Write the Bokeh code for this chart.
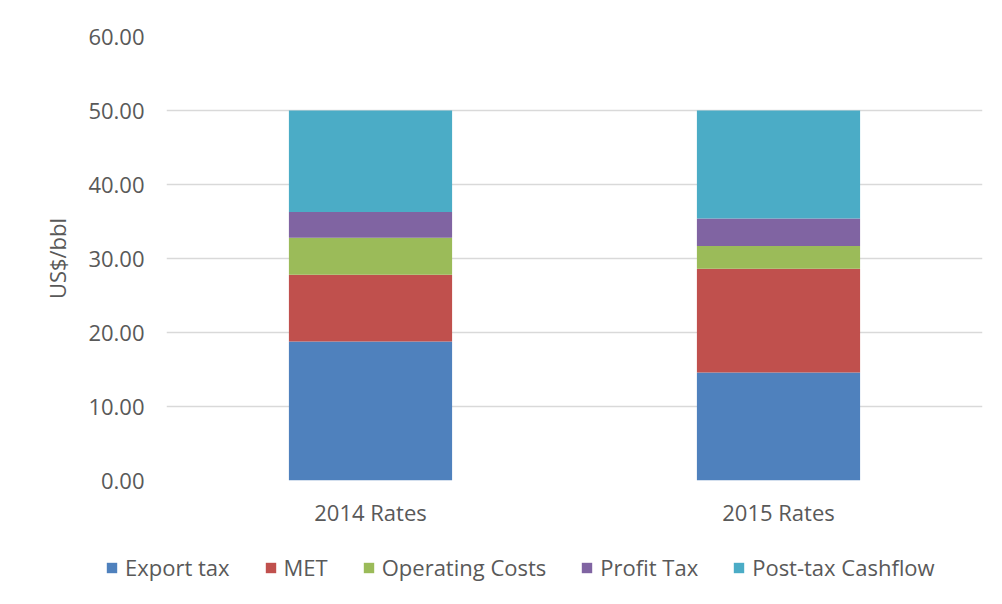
from bokeh.plotting import figure
from bokeh.models import ColumnDataSource, FactorRange, Range1d, SingleIntervalTicker, NumeralTickFormatter, Legend, LegendItem
from bokeh.embed import file_html
from bokeh.resources import INLINE

categories = ["2014 Rates", "2015 Rates"]
series = ["Export tax", "MET", "Operating Costs", "Profit Tax", "Post-tax Cashflow"]
export_tax = [18.8, 14.6]
met = [9.0, 14.0]
operating_costs = [5.0, 3.1]
profit_tax = [3.5, 3.7]
post_tax_cashflow = [13.7, 14.6]
colors = ["#4f81bd", "#c0504d", "#9bbb59", "#8064a2", "#4bacc6"]

src = ColumnDataSource(data={
    "cat": categories,
    "Export tax": export_tax,
    "MET": met,
    "Operating Costs": operating_costs,
    "Profit Tax": profit_tax,
    "Post-tax Cashflow": post_tax_cashflow,
})

FONT = "Open Sans"
GREY = "#595959"
FS = "22px"

p = figure(x_range=FactorRange(*categories), y_range=Range1d(0, 60),
           width=994, height=540, output_backend="svg", toolbar_location=None,
           min_border_left=166, min_border_right=12, min_border_top=36, min_border_bottom=60)

rs = p.vbar_stack(series, x="cat", width=0.4, source=src, color=colors, line_color=None)

p.xgrid.visible = False
p.ygrid.grid_line_color = "#d9d9d9"
p.ygrid.grid_line_width = 1.5
p.outline_line_color = None

p.yaxis.ticker = SingleIntervalTicker(interval=10)
p.yaxis.formatter = NumeralTickFormatter(format="0.00")
p.yaxis.axis_line_color = None
p.yaxis.major_tick_line_color = None
p.yaxis.minor_tick_line_color = None
p.yaxis.major_label_text_font = FONT
p.yaxis.major_label_text_font_size = FS
p.yaxis.major_label_text_color = GREY
p.yaxis.major_label_standoff = 16
p.yaxis.axis_label = "US$/bbl"
p.yaxis.axis_label_text_font = FONT
p.yaxis.axis_label_text_font_size = FS
p.yaxis.axis_label_text_font_style = "normal"
p.yaxis.axis_label_text_color = GREY
p.yaxis.axis_label_standoff = 13

p.xaxis.axis_line_color = None
p.xaxis.major_tick_line_color = None
p.xaxis.minor_tick_line_color = None
p.xaxis.major_label_text_font = FONT
p.xaxis.major_label_text_font_size = FS
p.xaxis.major_label_text_color = GREY
p.xaxis.major_label_standoff = 10

# legend strip below the chart (bars fall far outside its range; used only for legend swatches)
lg = figure(width=994, height=56, output_backend="svg", toolbar_location=None,
            x_range=FactorRange(*categories), y_range=Range1d(100000, 100001),
            min_border_left=0, min_border_right=0, min_border_top=0, min_border_bottom=0)
lg.axis.visible = False
lg.grid.visible = False
lg.outline_line_color = None
swatches = lg.vbar_stack(series, x="cat", width=0.4, source=src, color=colors, line_color=None)

legend = Legend(items=[LegendItem(label=s, renderers=[r]) for s, r in zip(series, swatches)],
                orientation="horizontal", location=(105, 14),
                label_text_font=FONT, label_text_font_size=FS, label_text_color=GREY,
                glyph_width=13, glyph_height=13, spacing=34, label_standoff=7,
                border_line_color=None, background_fill_alpha=0, margin=0, padding=0)
lg.add_layout(legend, "center")

open("out.html", "w").write(file_html([p, lg], INLINE))
